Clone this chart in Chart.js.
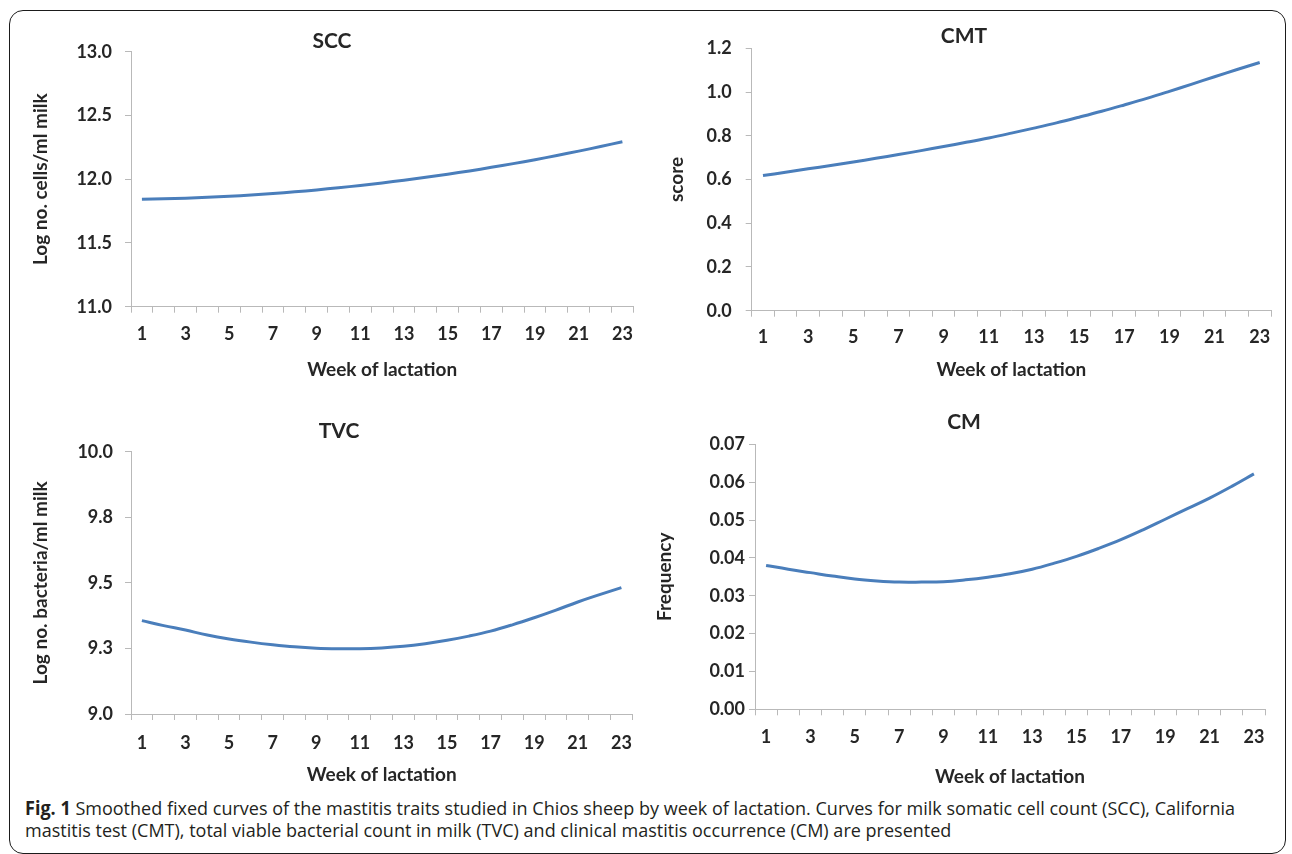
<!DOCTYPE html>
<html lang="en">
<head>
  <meta charset="UTF-8" />
  <title>Fig. 1 Mastitis traits by week of lactation</title>
  <script src="https://cdn.jsdelivr.net/npm/chart.js"></script>
  <style>
    html, body { margin: 0; padding: 0; background: #fff; }
    body { width: 1292px; height: 854px; position: relative; overflow: hidden; }
    .frame {
      position: absolute; left: 9px; top: 10px; width: 1277px; height: 844px;
      box-sizing: border-box; border: 1.5px solid #1b1b1b; border-radius: 14px;
    }
    canvas { position: absolute; }
    .caption {
      position: absolute; left: 25px; font-family: "Open Sans", sans-serif;
      font-size: 19px; line-height: 21.6px; color: #231f20;
      white-space: nowrap; transform-origin: 0 0;
    }
  </style>
</head>
<body>
  <div class="frame"></div>

  <canvas id="sccChart"></canvas>
  <canvas id="cmtChart"></canvas>
  <canvas id="tvcChart"></canvas>
  <canvas id="cmChart"></canvas>

  <div class="caption" id="cap1" style="top:798.2px"><b>Fig. 1</b> Smoothed fixed curves of the mastitis traits studied in Chios sheep by week of lactation. Curves for milk somatic cell count (SCC), California</div>
  <div class="caption" id="cap2" style="top:819.8px">mastitis test (CMT), total viable bacterial count in milk (TVC) and clinical mastitis occurrence (CM) are presented</div>

  <script>
    // weeks of lactation (x categories)
    const weeks = [1, 2, 3, 4, 5, 6, 7, 8, 9, 10, 11, 12, 13, 14, 15, 16, 17, 18, 19, 20, 21, 22, 23];

    const sccValues = [11.842, 11.846, 11.851, 11.858, 11.866, 11.876, 11.888, 11.901, 11.916, 11.933, 11.951, 11.971,
                       11.992, 12.015, 12.039, 12.065, 12.093, 12.122, 12.153, 12.186, 12.220, 12.256, 12.294];
    const cmtValues = [0.618, 0.633, 0.649, 0.664, 0.680, 0.697, 0.714, 0.732, 0.751, 0.770, 0.790, 0.812,
                       0.835, 0.859, 0.885, 0.912, 0.941, 0.971, 1.003, 1.036, 1.070, 1.103, 1.135];
    const tvcValues = [9.356, 9.337, 9.320, 9.301, 9.286, 9.274, 9.264, 9.256, 9.251, 9.249, 9.249, 9.252,
                       9.258, 9.268, 9.281, 9.297, 9.316, 9.340, 9.367, 9.396, 9.427, 9.455, 9.482];
    const cmValues  = [0.0380, 0.0370, 0.0361, 0.0352, 0.0344, 0.0339, 0.0336, 0.0336, 0.0337, 0.0342, 0.0349, 0.0358,
                       0.0370, 0.0386, 0.0404, 0.0425, 0.0448, 0.0474, 0.0502, 0.0530, 0.0558, 0.0589, 0.0622];

    // y axis ticks
    const sccTicks = [11.0, 11.5, 12.0, 12.5, 13.0];
    const cmtTicks = [0.0, 0.2, 0.4, 0.6, 0.8, 1.0, 1.2];
    const tvcTicks = [9.0, 9.25, 9.5, 9.75, 10.0];
    const cmTicks  = [0.00, 0.01, 0.02, 0.03, 0.04, 0.05, 0.06, 0.07];

    const fontFamily = 'Lato, "Open Sans", sans-serif';
    const textColor = '#262626';
    const axisColor = '#b9b9b9';
    const lineColor = '#4a7ebb';

    // box = canvas rect, L/T/R/B = plot area in page pixels
    function makePanel(id, title, yTitle, values, ticks, decimals, g) {
      const cv = document.getElementById(id);
      const [cx, cy, cw, ch] = g.box;
      cv.style.left = cx + 'px';
      cv.style.top = cy + 'px';
      cv.width = cw;
      cv.height = ch;

      const s0 = 2 * g.titleX - g.R;        // left edge of title band / y scale
      const xH = g.xTitleY - g.B + 11.4;    // x scale height incl. its title

      new Chart(cv, {
        type: 'line',
        data: {
          labels: weeks,
          datasets: [{
            data: values,
            borderColor: lineColor,
            borderWidth: 3,
            pointRadius: 0,
            tension: 0.4,
            fill: false
          }]
        },
        options: {
          responsive: false,
          animation: false,
          layout: {
            padding: { left: s0 - cx, top: g.titleY - 10.5 - cy, right: cx + cw - g.R, bottom: cy + ch - g.B - xH }
          },
          plugins: {
            legend: { display: false },
            tooltip: { enabled: false },
            title: {
              display: true,
              text: title,
              color: textColor,
              font: { family: fontFamily, size: 21, weight: 'bold', lineHeight: 1 },
              padding: { top: 0, bottom: g.T - g.titleY - 10.5 }
            }
          },
          scales: {
            x: {
              offset: true,
              grid: { offset: true, drawOnChartArea: false, color: axisColor, tickLength: 6 },
              border: { color: axisColor },
              ticks: {
                autoSkip: false,
                maxRotation: 0,
                padding: g.xPad,
                color: textColor,
                font: { family: fontFamily, size: 18, weight: 'bold' },
                callback: (v, i) => i % 2 === 0 ? weeks[i] : ''
              },
              title: {
                display: true,
                text: 'Week of lactation',
                color: textColor,
                font: { family: fontFamily, size: 19, weight: 'bold' },
                padding: 0
              },
              afterFit: s => { s.height = xH; }
            },
            y: {
              min: ticks[0],
              max: ticks[ticks.length - 1],
              afterBuildTicks: s => { s.ticks = ticks.map(v => ({ value: v })); },
              grid: { drawOnChartArea: false, color: axisColor, tickLength: 6 },
              border: { color: axisColor },
              ticks: {
                padding: g.yPad,
                color: textColor,
                font: { family: fontFamily, size: 18, weight: 'bold' },
                callback: v => v.toFixed(decimals)
              },
              title: {
                display: true,
                text: yTitle,
                color: textColor,
                font: { family: fontFamily, size: 19, weight: 'bold' },
                padding: { top: g.yTitleX - s0 - 11.4, bottom: 0 }
              },
              afterFit: s => { s.width = g.L - s0; }
            }
          }
        }
      });
    }

    makePanel('sccChart', 'SCC', 'Log no. cells/ml milk', sccValues, sccTicks, 1, {
      box: [12, 14, 632, 380], L: 131, T: 51.7, R: 636, B: 306.7,
      titleX: 332, titleY: 41.7, xTitleY: 370, yTitleX: 41, xPad: 11, yPad: 13
    });
    makePanel('cmtChart', 'CMT', 'score', cmtValues, cmtTicks, 1, {
      box: [648, 14, 634, 380], L: 751.7, T: 48.3, R: 1271, B: 310.7,
      titleX: 964, titleY: 36.7, xTitleY: 370, yTitleX: 677, xPad: 10, yPad: 14
    });
    makePanel('tvcChart', 'TVC', 'Log no. bacteria/ml milk', tvcValues, tvcTicks, 1, {
      box: [12, 400, 632, 395], L: 131, T: 451.7, R: 636, B: 714,
      titleX: 339, titleY: 431.7, xTitleY: 775, yTitleX: 41, xPad: 12, yPad: 12
    });
    makePanel('cmChart', 'CM', 'Frequency', cmValues, cmTicks, 2, {
      box: [648, 400, 634, 395], L: 755, T: 444.3, R: 1265, B: 709.3,
      titleX: 964, titleY: 422.7, xTitleY: 776.7, yTitleX: 665, xPad: 11.5, yPad: 4
    });

    // squeeze caption lines to the width of the original (condensed face)
    const cap1 = document.getElementById('cap1');
    const cap2 = document.getElementById('cap2');
    const k = 1210 / cap1.getBoundingClientRect().width;
    [cap1, cap2].forEach(c => { c.style.transform = 'scaleX(' + k + ')'; });
  </script>
</body>
</html>
